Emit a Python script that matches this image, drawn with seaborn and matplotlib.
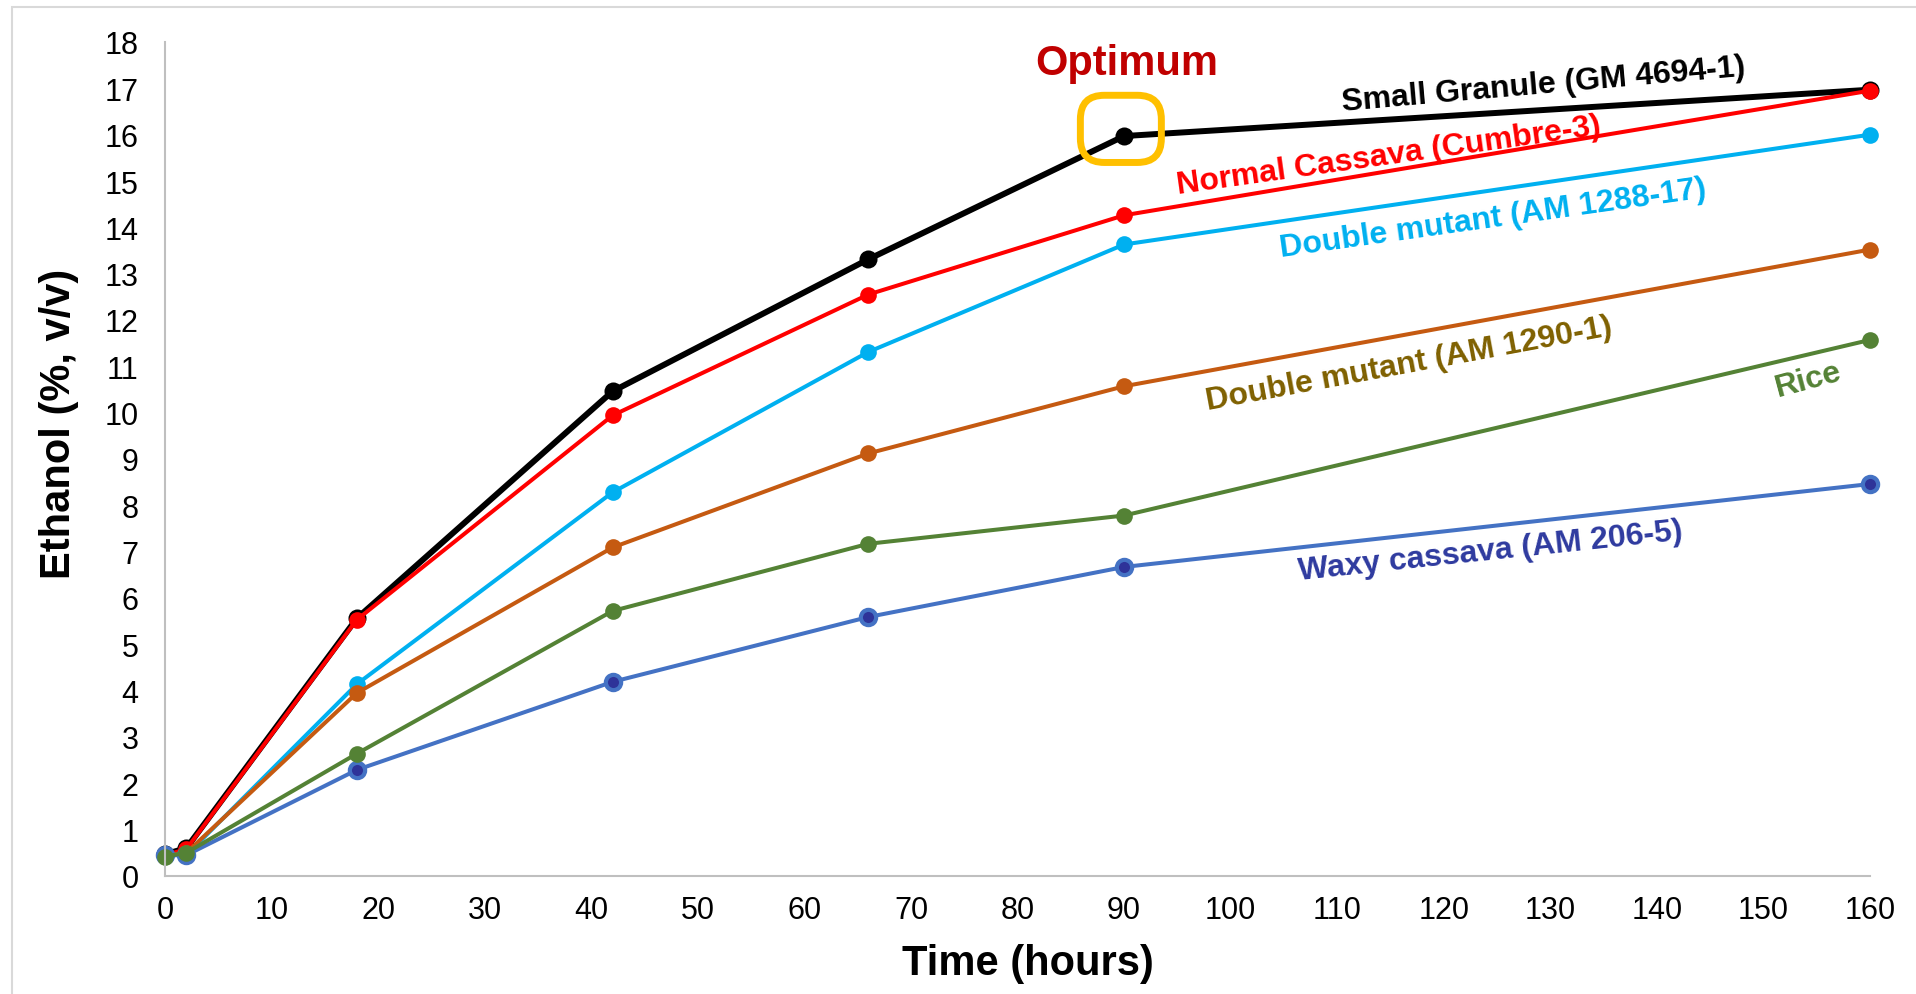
import numpy as np
import pandas as pd
import matplotlib
matplotlib.use("Agg")
import matplotlib.pyplot as plt
import seaborn as sns
from matplotlib.patches import FancyBboxPatch, Rectangle
from matplotlib.transforms import IdentityTransform

# ---- data ----
time_hours = [0, 2, 18, 42, 66, 90, 160]
small_granule = [0.47, 0.60, 5.56, 10.46, 13.31, 15.97, 16.97]
normal_cassava = [0.45, 0.58, 5.53, 9.94, 12.55, 14.26, 16.95]
double_mutant_1288 = [0.45, 0.45, 4.14, 8.28, 11.31, 13.63, 16.00]
double_mutant_1290 = [0.45, 0.50, 3.95, 7.09, 9.12, 10.57, 13.52]
waxy_cassava = [0.45, 0.45, 2.29, 4.19, 5.59, 6.67, 8.46]
rice = [0.42, 0.50, 2.64, 5.72, 7.17, 7.78, 11.57]

series_names = ["Small Granule (GM 4694-1)", "Normal Cassava (Cumbre-3)",
                "Double mutant (AM 1288-17)", "Double mutant (AM 1290-1)",
                "Waxy cassava (AM 206-5)", "Rice"]
series_values = [small_granule, normal_cassava, double_mutant_1288,
                 double_mutant_1290, waxy_cassava, rice]
x_ticks = list(range(0, 161, 10))
y_ticks = list(range(0, 19, 1))

df = pd.DataFrame({
    "Time": np.tile(time_hours, len(series_names)),
    "Ethanol": np.concatenate(series_values),
    "Series": np.repeat(series_names, len(time_hours)),
})

# ---- styles ----
line_colors = {
    "Small Granule (GM 4694-1)": "#000000",
    "Normal Cassava (Cumbre-3)": "#FF0000",
    "Double mutant (AM 1288-17)": "#00B0F0",
    "Double mutant (AM 1290-1)": "#C55A11",
    "Waxy cassava (AM 206-5)": "#4472C4",
    "Rice": "#548235",
}
label_colors = {
    "Small Granule (GM 4694-1)": "#000000",
    "Normal Cassava (Cumbre-3)": "#FF0000",
    "Double mutant (AM 1288-17)": "#00B0F0",
    "Double mutant (AM 1290-1)": "#7F6000",
    "Waxy cassava (AM 206-5)": "#2E3A9F",
    "Rice": "#548235",
}
# label placement (data coords) and rotation (deg)
label_pos = {
    "Small Granule (GM 4694-1)": (129.4, 17.08, 5),
    "Normal Cassava (Cumbre-3)": (114.8, 15.55, 8),
    "Double mutant (AM 1288-17)": (124.6, 14.2, 8),
    "Double mutant (AM 1290-1)": (116.7, 11.05, 10.5),
    "Waxy cassava (AM 206-5)": (124.4, 7.02, 6),
    "Rice": (154.2, 10.72, 15),
}

sns.set_theme(style="white")
plt.rcParams["font.family"] = ["Liberation Sans", "DejaVu Sans"]

fig = plt.figure(figsize=(19.16, 9.95), dpi=100)
ax = fig.add_axes([165 / 1916, 1 - 877 / 995, (1870 - 165) / 1916, (877 - 43) / 995])

for name in series_names:
    sub = df[df["Series"] == name]
    big = name.startswith("Small")
    lw = 4.3 if big else 2.9
    ms = 13 if big else 12
    if name.startswith("Waxy"):
        mfc, mec, mew = "#2E3399", "#4472C4", 3.0
        ms = 11
    else:
        mfc, mec, mew = line_colors[name], line_colors[name], 0
    sns.lineplot(data=sub, x="Time", y="Ethanol", ax=ax, color=line_colors[name],
                 linewidth=lw, marker="o", markersize=ms, markerfacecolor=mfc,
                 markeredgecolor=mec, markeredgewidth=mew, clip_on=False,
                 legend=False, errorbar=None)

ax.set_xlim(0, 160)
ax.set_ylim(0, 18)
ax.set_xticks(x_ticks)
ax.set_yticks(y_ticks)
ax.tick_params(axis="both", length=0, labelsize=22, colors="#000000")
ax.tick_params(axis="y", pad=19)
ax.tick_params(axis="x", pad=14)
for s in ["top", "right"]:
    ax.spines[s].set_visible(False)
for s in ["left", "bottom"]:
    ax.spines[s].set_color("#BFBFBF")
    ax.spines[s].set_linewidth(1.5)
ax.grid(False)

ax.set_xlabel("Time (hours)", fontsize=30, fontweight="bold", color="#000000")
ax.set_ylabel("Ethanol (%, v/v)", fontsize=30, fontweight="bold", color="#000000")
ax.xaxis.label.set_va("center")
ax.yaxis.label.set_va("center")
ax.xaxis.set_label_coords(0.506, -0.104)
ax.yaxis.set_label_coords(-0.062, 0.543)

for name in series_names:
    x, y, rot = label_pos[name]
    ax.text(x, y, name, color=label_colors[name], fontsize=23, fontweight="bold",
            rotation=rot, rotation_mode="anchor", ha="center", va="center")

ax.text(90.25, 17.55, "Optimum", color="#C00000", fontsize=30, fontweight="bold",
        ha="center", va="center")

# highlight box around optimum point (display coords)
(x0, y0), (x1, y1) = ax.transData.transform([(85.9, 15.4), (93.5, 16.85)])
box = FancyBboxPatch((x0, y0), x1 - x0, y1 - y0,
                     boxstyle="round,pad=0,rounding_size=24",
                     transform=IdentityTransform(), fill=False,
                     edgecolor="#FFC000", linewidth=5, zorder=5, clip_on=False)
ax.add_artist(box)

# figure border
fig.patches.append(Rectangle((12 / 1916, -0.1), 1.2, 1.1 - 8 / 995,
                             transform=fig.transFigure, fill=False,
                             edgecolor="#D9D9D9", linewidth=1.5))

fig.savefig("out.png", dpi=100)
